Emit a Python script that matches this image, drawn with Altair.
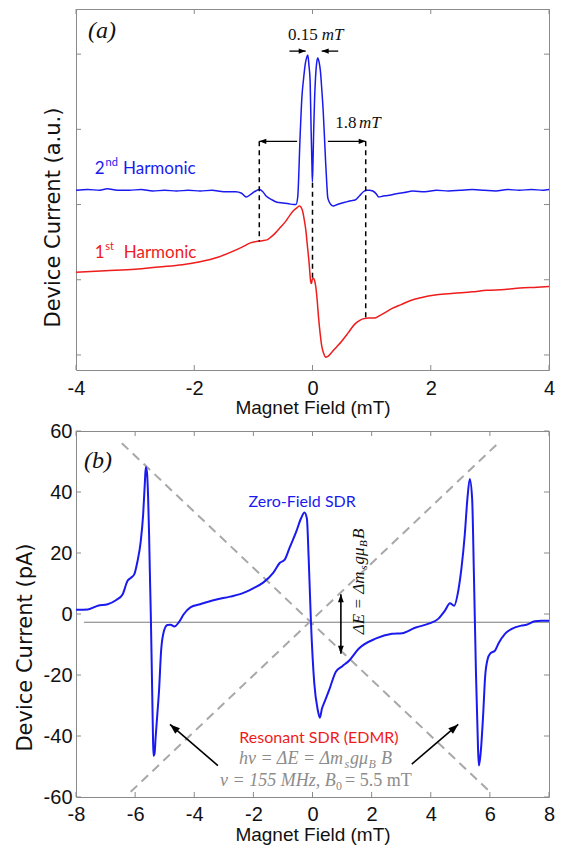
import math
import altair as alt
import pandas as pd

# ---------------- panel (a) data ----------------
a_field_2nd = [-4.0, -3.8, -3.6, -3.47, -3.3, -3.1, -2.9, -2.7, -2.5, -2.3, -2.1, -1.9, -1.7, -1.5, -1.3,
               -1.2, -1.12, -1.02, -0.96, -0.90, -0.84, -0.78, -0.70, -0.60, -0.50, -0.40, -0.32, -0.28,
               -0.25, -0.21, -0.18, -0.15, -0.12, -0.10, -0.079, -0.06, -0.04, -0.023, -0.010, -0.002,
               0.008, 0.020, 0.035, 0.048, 0.070, 0.089, 0.110, 0.133, 0.158, 0.183, 0.205, 0.223, 0.240,
               0.257, 0.28, 0.31, 0.35, 0.42, 0.55, 0.65, 0.72, 0.80, 0.86, 0.91, 0.96, 1.02, 1.08, 1.12,
               1.18, 1.27, 1.40, 1.55, 1.7, 1.9, 2.1, 2.3, 2.5, 2.7, 2.9, 3.1, 3.3, 3.5, 3.7, 3.9, 4.0]
a_sig_2nd = [2.19, 2.20, 2.19, 2.21, 2.19, 2.19, 2.20, 2.18, 2.19, 2.18, 2.19, 2.18, 2.19, 2.17, 2.17,
             2.15, 2.10, 2.15, 2.18, 2.20, 2.17, 2.11, 2.07, 2.03, 2.02, 2.01, 2.00, 2.00,
             2.10, 2.90, 3.42, 3.68, 3.88, 3.95, 3.99, 3.85, 3.64, 2.98, 2.55, 2.30,
             2.55, 2.98, 3.40, 3.64, 3.88, 3.95, 3.90, 3.78, 3.52, 3.21, 2.85, 2.55, 2.30,
             2.10, 2.04, 2.00, 1.98, 2.00, 2.03, 2.05, 2.06, 2.12, 2.17, 2.19, 2.19, 2.18, 2.14, 2.10,
             2.11, 2.12, 2.14, 2.16, 2.18, 2.17, 2.19, 2.18, 2.19, 2.20, 2.19, 2.18, 2.20, 2.19, 2.20, 2.19, 2.20]
a_field_1st = [-4.0, -3.5, -3.0, -2.6, -2.2, -1.9, -1.6, -1.4, -1.2, -1.05, -0.95, -0.85, -0.77, -0.70,
               -0.63, -0.55, -0.46, -0.39, -0.32, -0.26, -0.22, -0.19, -0.17, -0.14, -0.113, -0.085,
               -0.057, -0.04, -0.03, -0.018, -0.005, 0.016, 0.035, 0.055, 0.08, 0.10, 0.13, 0.156, 0.19,
               0.22, 0.26, 0.32, 0.40, 0.49, 0.60, 0.715, 0.80, 0.855, 0.95, 1.05, 1.13, 1.22, 1.35,
               1.50, 1.65, 1.83, 2.1, 2.39, 2.7, 2.95, 3.25, 3.51, 3.8, 4.0]
a_sig_1st = [1.10, 1.12, 1.14, 1.17, 1.20, 1.24, 1.30, 1.36, 1.43, 1.49, 1.51, 1.52, 1.53, 1.57,
             1.62, 1.69, 1.77, 1.85, 1.92, 1.96, 1.98, 1.96, 1.92, 1.80, 1.66, 1.44,
             1.22, 1.05, 0.97, 0.95, 1.00, 1.02, 0.99, 0.91, 0.72, 0.52, 0.28, 0.12, 0.02,
             -0.03, -0.02, 0.03, 0.10, 0.18, 0.29, 0.41, 0.46, 0.48, 0.49, 0.49, 0.52, 0.56, 0.62,
             0.67, 0.72, 0.76, 0.80, 0.82, 0.84, 0.86, 0.87, 0.89, 0.90, 0.91]
a_ticks_x = [-4, -2, 0, 2, 4]
a_ticks_y = [0, 1, 2, 3, 4]

a_guide_x = [-0.9, 0.0, 0.9]
a_guide_top = [2.84, 2.29, 2.84]
a_guide_bottom = [1.51, 1.00, 0.49]

a_arrow_from = [-0.39, 0.435, -0.26, 0.26]
a_arrow_to = [-0.115, 0.155, -0.9, 0.9]
a_arrow_y = [4.04, 4.04, 2.84, 2.84]

# ---------------- panel (b) data ----------------
b_field = [-8.0, -7.6, -7.26, -6.93, -6.65, -6.42, -6.26, -6.14, -6.03, -5.92, -5.81, -5.73, -5.67, -5.64,
           -5.60, -5.56, -5.53, -5.50, -5.47, -5.44, -5.42, -5.40, -5.38, -5.34, -5.31, -5.25, -5.19,
           -5.12, -5.02, -4.91, -4.80, -4.67, -4.52, -4.35, -4.13, -3.80, -3.35, -2.79, -2.45, -2.01,
           -1.67, -1.33, -1.11, -0.94, -0.78, -0.55, -0.39, -0.27, -0.19, -0.13, -0.05, 0.06, 0.175,
           0.25, 0.32, 0.40, 0.565, 0.79, 1.01, 1.235, 1.57, 2.13, 2.69, 3.03, 3.47, 3.98, 4.25, 4.48,
           4.65, 4.79, 4.93, 5.04, 5.15, 5.24, 5.32, 5.40, 5.46, 5.53, 5.60, 5.63, 5.69, 5.77, 5.84,
           5.93, 6.01, 6.18, 6.29, 6.51, 6.74, 7.07, 7.24, 7.52, 7.74, 8.0]
b_current = [1.4, 1.5, 2.7, 3.2, 4.5, 6.5, 10.8, 11.9, 13.0, 17.3, 23.8, 32.4, 43.2, 48.1,
             46.5, 38.0, 27.0, 13.0, 0.0, -16.0, -27.0, -38.0, -46.5, -45.5, -41.0, -33.0, -24.9,
             -11.9, -5.4, -3.6, -3.5, -4.1, -2.7, 0.0, 2.2, 3.2, 4.5, 5.7, 6.5, 8.4,
             10.3, 13.5, 16.7, 17.8, 21.6, 27.0, 31.3, 33.3, 31.3, 18.4, -3.2, -22.7, -31.3,
             -34.0, -31.0, -29.0, -24.9, -18.9, -17.1, -15.3, -11.3, -8.1, -6.5, -6.3, -4.5, -3.0, -1.6, 1.1,
             3.5, 2.7, 7.6, 15.1, 25.9, 37.8, 44.3, 37.8, 13.0, -19.4, -44.3, -49.7, -45.4, -33.5, -20.5,
             -14.6, -13.0, -11.9, -9.7, -6.5, -4.9, -3.8, -3.5, -2.4, -2.2, -2.2]
b_ticks_x = [-8, -6, -4, -2, 0, 2, 4, 6, 8]
b_ticks_y = [-60, -40, -20, 0, 20, 40, 60]

b_zero_line_x = [-7.73, 8.0]
b_zero_line_y = -2.7
b_diag_x1 = [-6.45, -6.15]
b_diag_y1 = [56.0, -58.3]
b_diag_x2 = [6.0, 6.3]
b_diag_y2 = [-58.3, 56.2]
b_arrow_x1 = [-3.20, 3.36]
b_arrow_y1 = [-49.7, -49.2]
b_arrow_x2 = [-4.82, 4.93]
b_arrow_y2 = [-36.2, -36.2]
b_de_x = 0.96
b_de_y = [-13.0, 6.5]

assert len(a_field_2nd) == len(a_sig_2nd)
assert len(a_field_1st) == len(a_sig_1st)
assert len(b_field) == len(b_current)

# ---------------- styles ----------------
SANS = "Liberation Sans"
LSANS = "Lato"
SERIF = "Liberation Serif"
FRAME = "#8a8a8a"
INK = "#111111"
BLUE = "#1a1aef"
RED = "#ee1c1c"
GRAYT = "#8c8c8c"
DGRAY = "#a8a8a8"
HEAD = "M0,0 L0.36,1 L-0.36,1 Z"

WA, HA = 473, 361
WB, HB = 473, 366


def x_axis(vals, pad, ty):
    return alt.Axis(values=vals, title="Magnet Field (mT)", labelExpr="'' + datum.value",
                    labelFont=SANS, labelFontSize=20, labelColor=INK, labelPadding=pad,
                    labelFlush=False, labelOverlap=False, ticks=False, tickSize=0,
                    domain=False, grid=False, titleFont=SANS, titleFontSize=19,
                    titleFontWeight="normal", titleColor=INK, titleBaseline="alphabetic",
                    titleY=ty)


def frame_ticks(tx, ty, X, Y, W, H, L=5):
    dtx = pd.DataFrame({"x": tx})
    dty = pd.DataFrame({"y": ty})
    m = dict(color=FRAME, strokeWidth=1)
    return [
        alt.Chart(dtx).mark_rule(**m).encode(x=X, y=alt.value(H), y2=alt.value(H - L)),
        alt.Chart(dtx).mark_rule(**m).encode(x=X, y=alt.value(0), y2=alt.value(L)),
        alt.Chart(dty).mark_rule(**m).encode(y=Y, x=alt.value(0), x2=alt.value(L)),
        alt.Chart(dty).mark_rule(**m).encode(y=Y, x=alt.value(W), x2=alt.value(W - L)),
    ]


def txt(rows, X, Y, **mk):
    df = pd.DataFrame(rows, columns=["t", "x", "y", "c"])
    return alt.Chart(df).mark_text(**mk).encode(
        x=X, y=Y, text="t:N", color=alt.Color("c:N", scale=None))


def heads(xs, ys, angs, X, Y, size):
    df = pd.DataFrame({"x": xs, "y": ys, "ang": angs})
    return alt.Chart(df).mark_point(shape=HEAD, filled=True, size=size, color="black",
                                    opacity=1, strokeWidth=0).encode(
        x=X, y=Y, angle=alt.Angle("ang:Q", scale=None))


# ---------------- panel (a) ----------------
XA = alt.X("x:Q", scale=alt.Scale(domain=[-4, 4], nice=False, zero=False), axis=x_axis(a_ticks_x, 8, 43))
YA = alt.Y("y:Q", scale=alt.Scale(domain=[-0.2, 4.6], nice=False, zero=False),
           axis=alt.Axis(values=a_ticks_y, labels=False, ticks=False, tickSize=0, domain=False, grid=False,
                         title="Device Current (a.u.)", titleFont="DejaVu Sans", titleFontSize=21,
                         titleFontWeight="normal", titleColor=INK, titleAngle=270, titleAlign="center",
                         titleBaseline="alphabetic", titleX=-17, titleY=208))

a_red = alt.Chart(pd.DataFrame({"x": a_field_1st, "y": a_sig_1st})).mark_line(
    color=RED, strokeWidth=1.5, interpolate="monotone").encode(x=XA, y=YA)
a_blue = alt.Chart(pd.DataFrame({"x": a_field_2nd, "y": a_sig_2nd})).mark_line(
    color=BLUE, strokeWidth=1.5, interpolate="monotone").encode(x=XA, y=YA)
a_guides = alt.Chart(pd.DataFrame({"x": a_guide_x, "y": a_guide_top, "y2": a_guide_bottom})).mark_rule(
    color="black", strokeWidth=1.5, strokeDash=[5, 4]).encode(x=XA, y=YA, y2="y2:Q")
a_shafts = alt.Chart(pd.DataFrame({"x": a_arrow_from, "x2": a_arrow_to, "y": a_arrow_y})).mark_rule(
    color="black", strokeWidth=1.3).encode(x=XA, x2="x2:Q", y=YA)
a_heads = heads(a_arrow_to, a_arrow_y,
                [90 if t > f else 270 for f, t in zip(a_arrow_from, a_arrow_to)], XA, YA, 196)

a_txt = [
    txt([("(a)", -3.56, 4.31, INK)], XA, YA, font=SERIF, fontStyle="italic", fontSize=24,
        align="center", baseline="middle"),
    txt([("0.15", 0.088, 4.26, INK), ("1.8", 0.743, 3.08, INK)], XA, YA, font=SERIF, fontSize=17,
        align="right", baseline="middle"),
    txt([("mT", 0.156, 4.26, INK), ("mT", 0.787, 3.08, INK)], XA, YA, font=SERIF, fontStyle="italic",
        fontSize=17, align="left", baseline="middle"),
    txt([("2", -3.684, 2.475, BLUE), ("Harmonic", -3.205, 2.475, BLUE),
         ("1", -3.684, 1.36, RED), ("Harmonic", -3.193, 1.36, RED)], XA, YA, font=LSANS, fontSize=17,
        align="left", baseline="middle"),
    txt([("nd", -3.50, 2.475, BLUE), ("st", -3.505, 1.36, RED)], XA, YA, font=LSANS, fontSize=11,
        align="left", baseline="middle", dy=-6),
]

panel_a = alt.layer(
    a_red, a_blue, a_guides, a_shafts, a_heads, *a_txt,
    *frame_ticks(a_ticks_x, a_ticks_y, XA, YA, WA, HA)
).properties(width=WA, height=HA)

# ---------------- panel (b) ----------------
XB = alt.X("x:Q", scale=alt.Scale(domain=[-8, 8], nice=False, zero=False), axis=x_axis(b_ticks_x, 7, 43))
YB = alt.Y("y:Q", scale=alt.Scale(domain=[-60, 60], nice=False, zero=False),
           axis=alt.Axis(values=b_ticks_y, labelExpr="'' + datum.value", labelFont=SANS, labelFontSize=20,
                         labelColor=INK, labelPadding=4, labelFlush=False, labelOverlap=False,
                         ticks=False, tickSize=0, domain=False, grid=False,
                         title="Device Current (pA)", titleFont="DejaVu Sans", titleFontSize=21,
                         titleFontWeight="normal", titleColor=INK, titleAngle=270, titleAlign="center",
                         titleBaseline="alphabetic", titleX=-45, titleY=216))

b_zero = alt.Chart(pd.DataFrame({"x": [b_zero_line_x[0]], "x2": [b_zero_line_x[1]],
                                 "y": [b_zero_line_y]})).mark_rule(color="#7a7a7a", strokeWidth=1).encode(
    x=XB, x2="x2:Q", y=YB)
b_diag = alt.Chart(pd.DataFrame({"x": b_diag_x1, "y": b_diag_y1, "x2": b_diag_x2, "y2": b_diag_y2})).mark_rule(
    color=DGRAY, strokeWidth=2, strokeDash=[9, 6]).encode(x=XB, y=YB, x2="x2:Q", y2="y2:Q")
b_line = alt.Chart(pd.DataFrame({"x": b_field, "y": b_current})).mark_line(
    color=BLUE, strokeWidth=2, interpolate="monotone").encode(x=XB, y=YB)
b_shafts = alt.Chart(pd.DataFrame({"x": b_arrow_x1, "y": b_arrow_y1, "x2": b_arrow_x2, "y2": b_arrow_y2})).mark_rule(
    color="black", strokeWidth=1.6).encode(x=XB, y=YB, x2="x2:Q", y2="y2:Q")
sx, sy = WB / 16.0, HB / 120.0
b_angs = [math.degrees(math.atan2((x2 - x1) * sx, (y2 - y1) * sy)) % 360
          for x1, y1, x2, y2 in zip(b_arrow_x1, b_arrow_y1, b_arrow_x2, b_arrow_y2)]
b_heads = heads(b_arrow_x2, b_arrow_y2, b_angs, XB, YB, 400)
b_de = alt.Chart(pd.DataFrame({"x": [b_de_x], "y": [b_de_y[0]], "y2": [b_de_y[1]]})).mark_rule(
    color="black", strokeWidth=1.6).encode(x=XB, y=YB, y2="y2:Q")
b_de_heads = heads([b_de_x, b_de_x], b_de_y, [180, 0], XB, YB, 256)

b_txt = [
    txt([("(b)", -7.26, 50.2, INK)], XB, YB, font=SERIF, fontStyle="italic", fontSize=24,
        align="center", baseline="middle"),
    txt([("Zero-Field SDR", -0.35, 36.6, BLUE), ("Resonant SDR (EDMR)", 0.22, -40.5, RED)], XB, YB,
        font=LSANS, fontSize=16, align="center", baseline="middle"),
    # formula lines (gray)
    txt([("hν = ΔE = Δm", -2.486, -47.6, GRAYT), ("gμ", 1.268, -47.6, GRAYT), ("B", 2.317, -47.6, GRAYT),
         ("ν = 155 MHz, B", -3.129, -54.6, GRAYT)], XB, YB,
        font=SERIF, fontStyle="italic", fontSize=18, align="left", baseline="middle"),
    txt([("s", 1.083, -47.6, GRAYT), ("B", 1.894, -47.6, GRAYT)], XB, YB,
        font=SERIF, fontStyle="italic", fontSize=12, align="left", baseline="middle", dy=5),
    txt([("0", 0.795, -54.6, GRAYT)], XB, YB,
        font=SERIF, fontSize=12, align="left", baseline="middle", dy=5),
    txt([("= 5.5 mT", 1.10, -54.6, GRAYT)], XB, YB,
        font=SERIF, fontSize=18, align="left", baseline="middle"),
    # rotated energy label
    txt([("ΔE = Δm", 1.57, -6.6, INK), ("gμ", 1.57, 16.2, INK), ("B", 1.57, 24.6, INK)],
        XB, YB, font=SERIF, fontStyle="italic", fontSize=17, align="left", baseline="middle", angle=270),
    txt([("s", 1.57, 14.5, INK), ("B", 1.57, 22.0, INK)], XB, YB,
        font=SERIF, fontStyle="italic", fontSize=11, align="left", baseline="middle", angle=270, dy=5),
]

panel_b = alt.layer(
    b_zero, b_diag, b_line, b_shafts, b_heads, b_de, b_de_heads, *b_txt,
    *frame_ticks(b_ticks_x, b_ticks_y, XB, YB, WB, HB)
).properties(width=WB, height=HB)

chart = alt.vconcat(panel_a, panel_b, spacing=61, bounds="flush").properties(
    padding={"left": 5, "top": 0, "right": 0, "bottom": 0}
).configure_view(stroke=FRAME, strokeWidth=1)

chart.save("out.html", embed_options={"renderer": "svg", "actions": False})
